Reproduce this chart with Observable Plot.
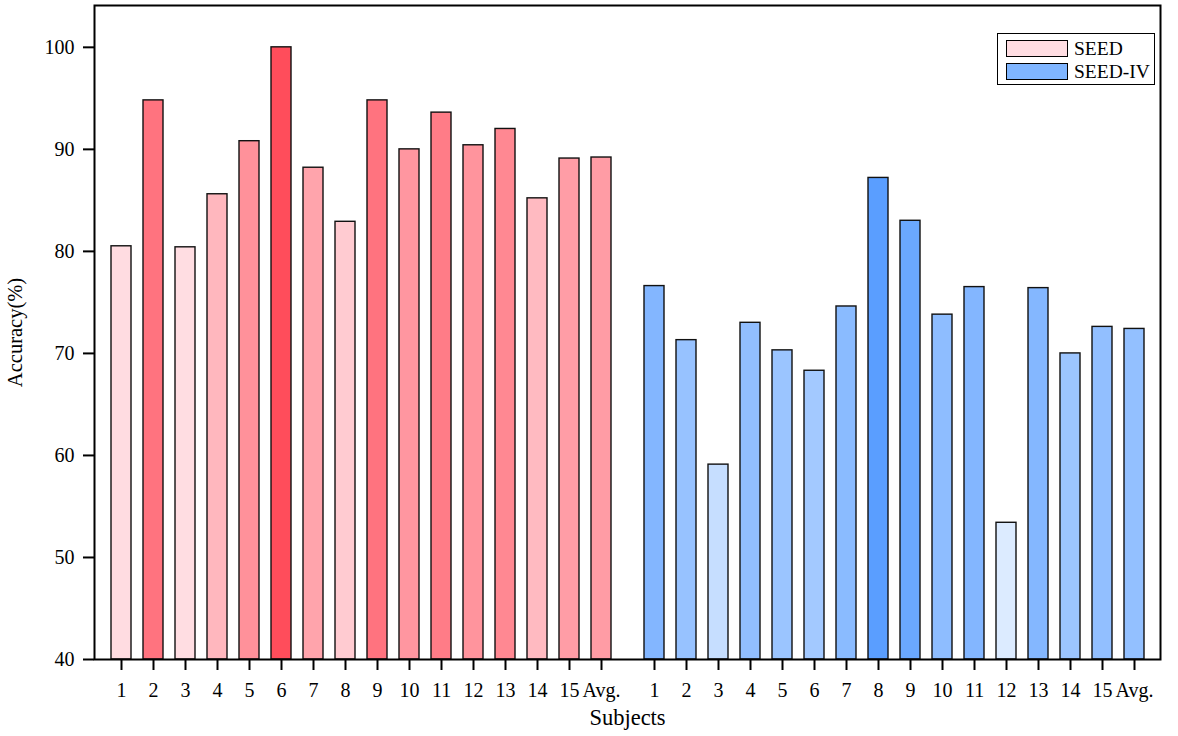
<!DOCTYPE html>
<html>
<head>
<meta charset="utf-8">
<script src="https://cdn.jsdelivr.net/npm/d3@7"></script>
<script src="https://cdn.jsdelivr.net/npm/@observablehq/plot@0.6"></script>
<style>
  body { margin: 0; background: #fff; }
  #wrap { position: relative; width: 1178px; height: 736px; font-family: "Liberation Serif", "Times New Roman", serif; }
  #wrap svg [aria-label$="tick"] { stroke-width: 2px; }
  #wrap svg .tick line { stroke-width: 2px; }
  #legend { position: absolute; left: 997px; top: 33px; width: 158px; height: 52px; border: 1.5px solid #000; background: #fff; box-sizing: border-box; }
  .item { position: absolute; left: 8px; display: flex; align-items: center; font-size: 19.5px; color: #000; line-height: 1; }
  .sw { width: 62px; height: 17px; border: 1.5px solid #000; box-sizing: border-box; margin-right: 6px; }
</style>
</head>
<body>
<div id="wrap"></div>
<script>
const subjects = ["1","2","3","4","5","6","7","8","9","10","11","12","13","14","15","Avg."];
const groups = ["SEED", "SEED-IV"];
const seed   = [80.5, 94.8, 80.4, 85.6, 90.8, 100.0, 88.2, 82.9, 94.8, 90.0, 93.6, 90.4, 92.0, 85.2, 89.1, 89.2];
const seedIV = [76.6, 71.3, 59.1, 73.0, 70.3, 68.3, 74.6, 87.2, 83.0, 73.8, 76.5, 53.4, 76.4, 70.0, 72.6, 72.4];
const yTicks = [40, 50, 60, 70, 80, 90, 100];
const yMin = 40, yMax = 104.1;
const xTitle = "Subjects";
const yTitle = "Accuracy(%)";

const palettes = {
  "SEED": ["#ffdde2", "#ff4d5b"],
  "SEED-IV": ["#dcebff", "#5a9eff"]
};
const legendColors = {"SEED": "#ffdde2", "SEED-IV": "#7fb5ff"};

function buildRows(group, values) {
  const c = d3.scaleLinear().domain(d3.extent(values)).range(palettes[group]).interpolate(d3.interpolateRgb);
  return values.map((v, i) => ({group, subject: subjects[i], value: v, fill: c(v)}));
}
const rows = [...buildRows("SEED", seed), ...buildRows("SEED-IV", seedIV)];

const chart = Plot.plot({
  width: 1178,
  height: 736,
  marginTop: 5,
  marginBottom: 77,
  marginLeft: 83,
  marginRight: 7,
  style: {fontFamily: "Liberation Serif, Times New Roman, serif", fontSize: "20px", color: "#000", background: "#fff"},
  fx: {domain: groups, paddingInner: 0, paddingOuter: 0.0205, axis: null, label: null},
  x: {domain: subjects, paddingInner: 0.38, paddingOuter: 0.45, tickSize: 11, tickPadding: 12, label: null},
  y: {domain: [yMin, yMax], ticks: yTicks, tickSize: 11, tickPadding: 9, label: null},
  color: {type: "identity"},
  marks: [
    Plot.barY(rows, {fx: "group", x: "subject", y1: yMin, y2: "value", fill: "fill", stroke: "#111", strokeWidth: 1.4}),
    Plot.frame({stroke: "#000", strokeWidth: 2, facet: "super"}),
    Plot.text([xTitle], {text: d => d, frameAnchor: "bottom", dy: 65, fontSize: 22.5, facet: "super"}),
    Plot.text([yTitle], {text: d => d, frameAnchor: "left", textAnchor: "middle", dx: -79, rotate: -90, fontSize: 20.5, facet: "super"})
  ]
});
const wrap = document.getElementById("wrap");
wrap.appendChild(chart);

const legend = document.createElement("div");
legend.id = "legend";
groups.forEach((g, i) => {
  const it = document.createElement("div");
  it.className = "item";
  it.style.top = (5 + i * 23) + "px";
  const sw = document.createElement("div");
  sw.className = "sw";
  sw.style.background = legendColors[g];
  const t = document.createElement("span");
  t.textContent = g;
  it.appendChild(sw); it.appendChild(t);
  legend.appendChild(it);
});
wrap.appendChild(legend);
</script>
</body>
</html>
